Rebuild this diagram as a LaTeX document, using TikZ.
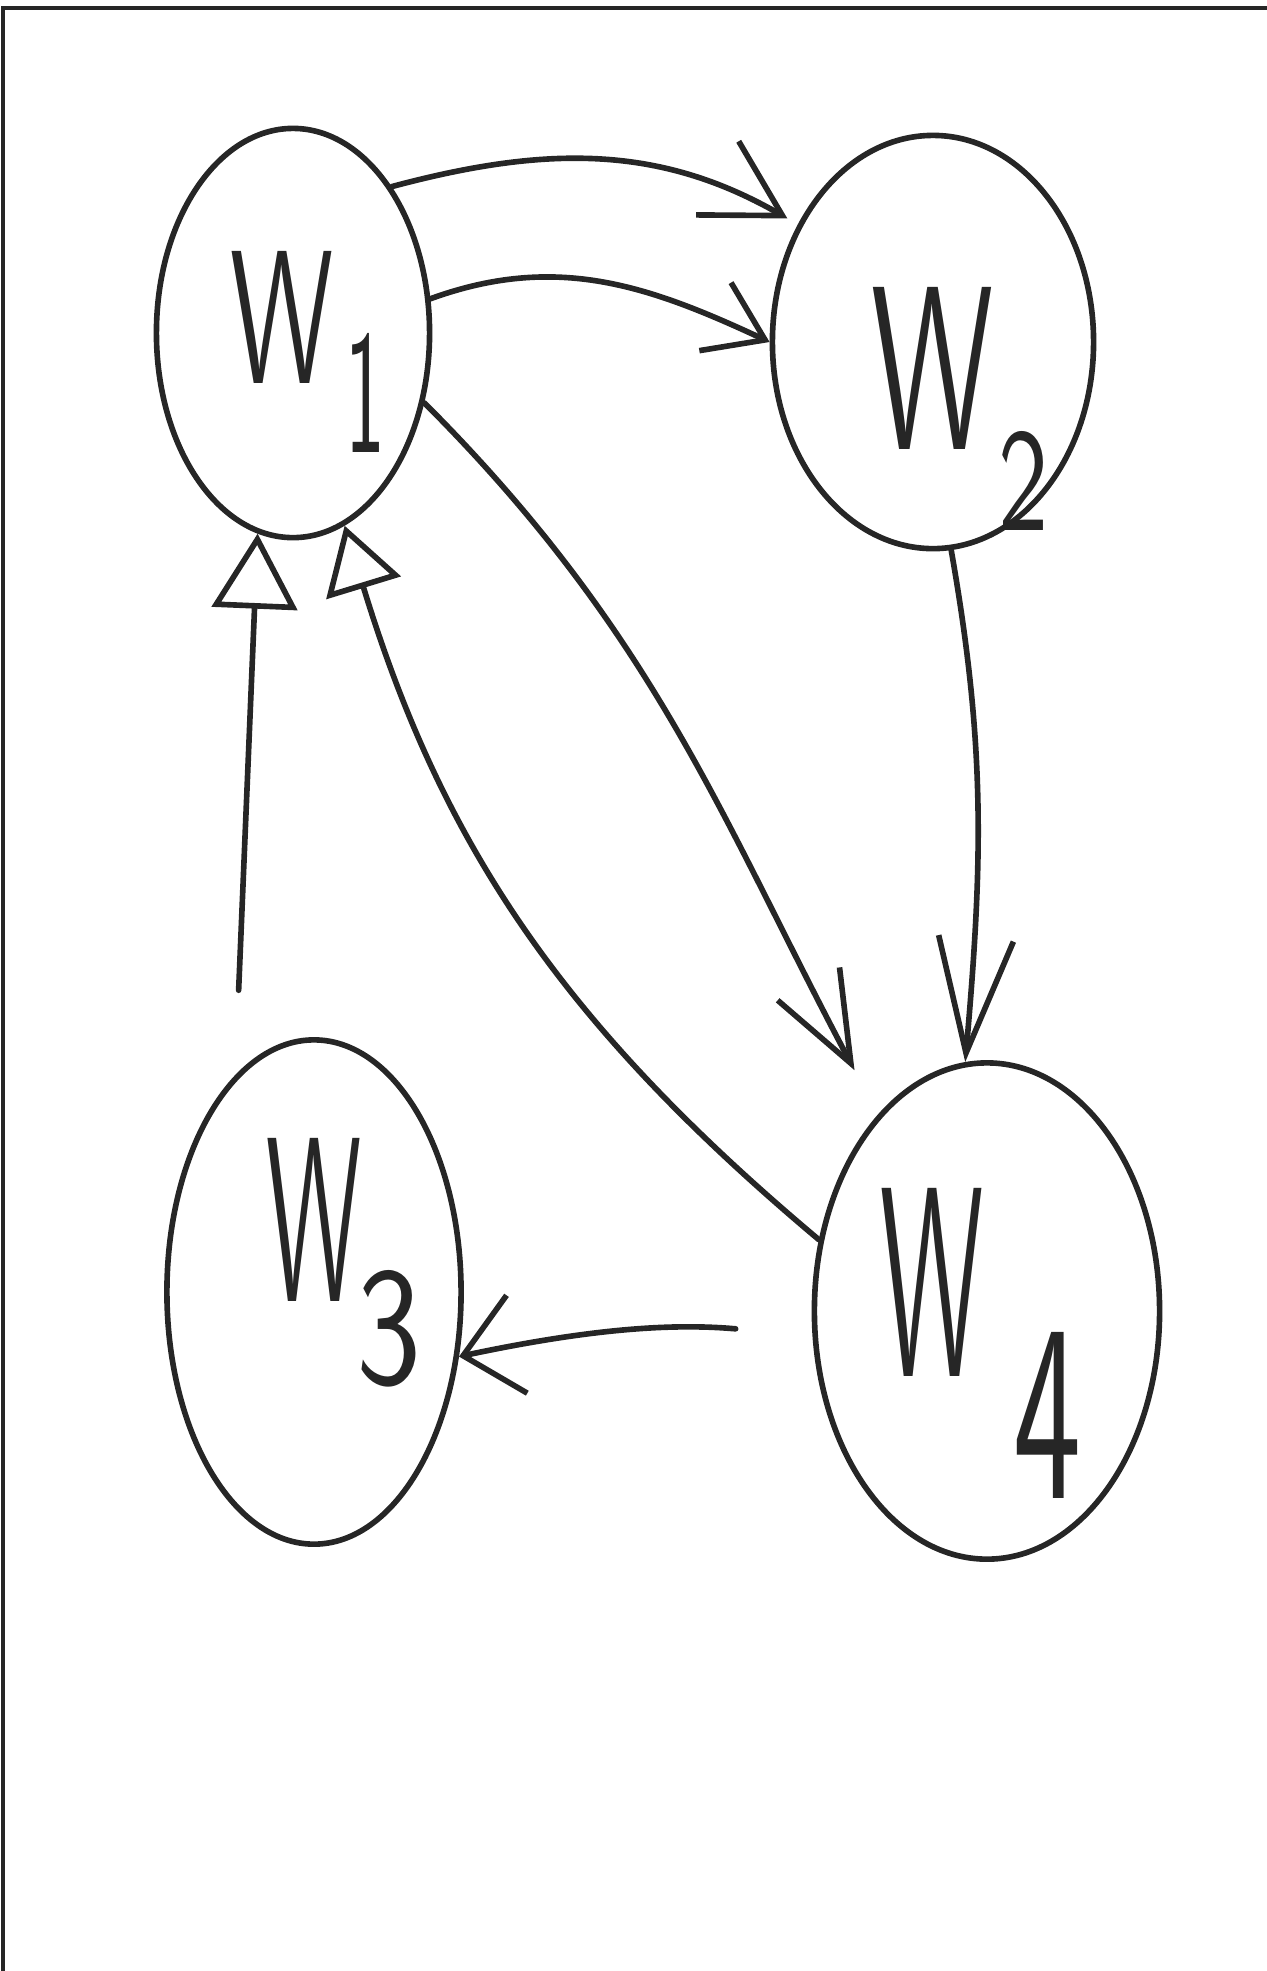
\documentclass[tikz,border=0pt]{standalone}
\usepackage{graphicx}
\usetikzlibrary{arrows.meta,shapes.geometric}
\begin{document}
\begin{tikzpicture}[x=0.01cm,y=0.01cm,
  state/.style={ellipse, draw=black!85, line width=1.6pt, inner sep=0pt},
  ink/.style={draw=black!85, line width=1.6pt, line cap=round, line join=round},
  lab/.style={anchor=base west, inner sep=0pt, text=black!85, font=\sffamily},
  barb/.style 2 args={-{Straight Barb[length=#1, width=#2]}},
  tri/.style 2 args={-{Triangle[open, length=#1, width=#2]}}]
  \useasboundingbox (0,-1971) rectangle (1267,0);
  % page frame
  \draw[black!85, line width=0.9pt] (3,-1971) -- (3,-8) -- (1267,-8);

  % states
  \node[state, minimum width=2.73cm, minimum height=4.09cm] (w1) at (293,-333) {};
  \node[state, minimum width=3.21cm, minimum height=4.13cm] (w2) at (933,-342) {};
  \node[state, minimum width=2.94cm, minimum height=5.04cm] (w3) at (314,-1292) {};
  \node[state, minimum width=3.45cm, minimum height=4.96cm] (w4) at (987,-1311) {};

  % labels
  \node[lab] (w1lab) at (230,-383) {\resizebox{1.03cm}{1.32cm}{W}\hspace{0.12cm}\raisebox{-0.69cm}{\resizebox{0.4cm}{1.19cm}{1}}};
  \node[lab] (w2lab) at (871,-449) {\resizebox{1.22cm}{1.62cm}{W}\hspace{0.05cm}\raisebox{-0.81cm}{\resizebox{0.5cm}{0.99cm}{2}}};
  \node[lab] (w3lab) at (266,-1301) {\resizebox{0.95cm}{1.63cm}{W}\hspace{-0.05cm}\raisebox{-0.82cm}{\resizebox{0.65cm}{1.13cm}{3}}};
  \node[lab] (w4lab) at (880,-1376) {\resizebox{1.03cm}{1.88cm}{W}\hspace{0.3cm}\raisebox{-1.22cm}{\resizebox{0.68cm}{1.66cm}{4}}};

  % transitions
  \draw[ink, barb={0.75cm}{0.85cm}, shorten >=0.12cm] (w1.56) to[out=15, in=150] (w2.139);
  \draw[ink, barb={0.55cm}{0.75cm}] (w1.14) to[out=20, in=155] (w2.180);
  \draw[ink, barb={0.9cm}{0.7cm}, shorten >=0.5cm] (w1.-28) to[out=-45, in=118] (w4.119);
  \draw[ink, barb={1.15cm}{0.75cm}] (w2.-85) to[out=-80, in=85] (w4.95);
  \draw[ink, tri={0.65cm}{0.77cm}] (w4.157) to[out=140, in=-73] (w1.-75);
  \draw[ink, tri={0.75cm}{0.85cm}, shorten <=0.85cm] (w3.110) -- (w1.-100);
  \draw[ink, barb={0.55cm}{1.0cm}, shorten <=0.77cm] (w4.188) to[out=175, in=12] (w3.-24);
\end{tikzpicture}
\end{document}
